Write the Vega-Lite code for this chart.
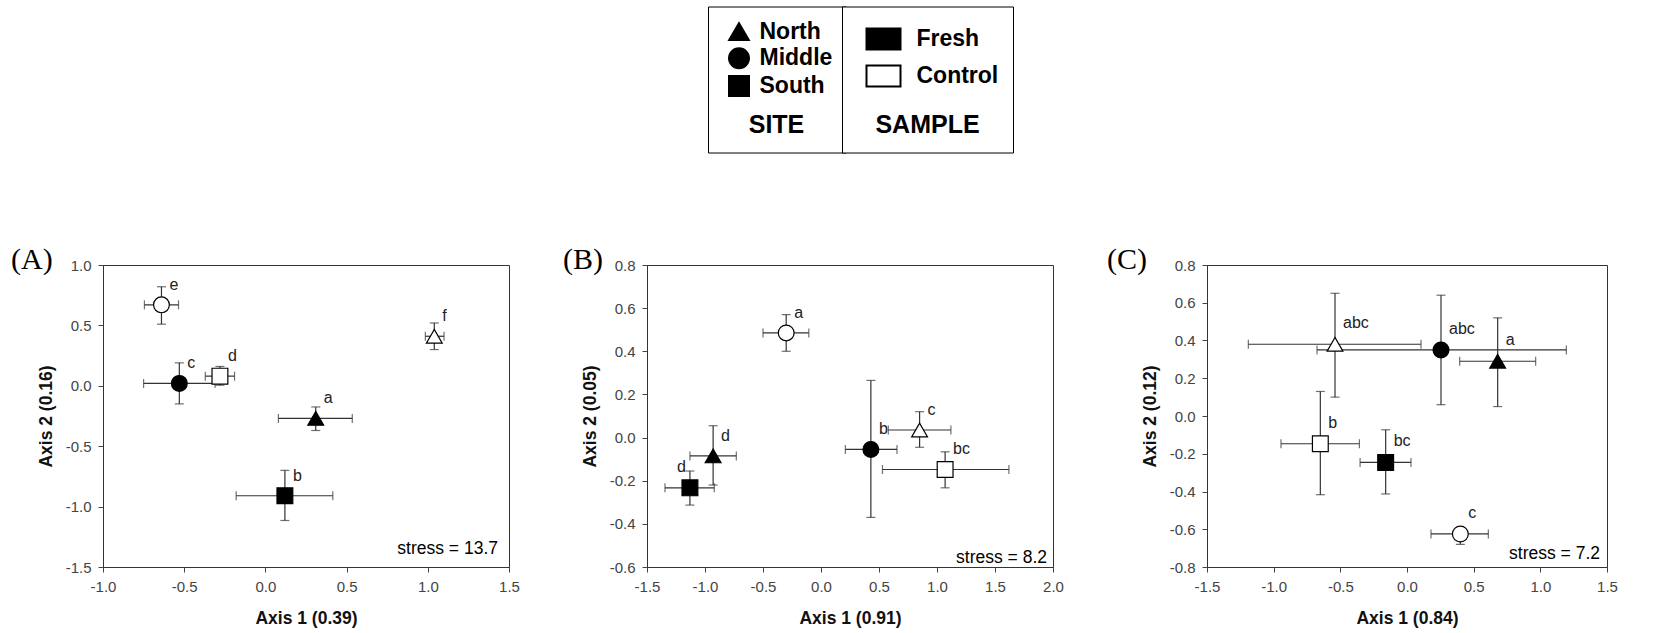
{
  "$schema": "https://vega.github.io/schema/vega-lite/v6.json",
  "padding": {"left": 10, "top": 6, "right": 10, "bottom": 4},
  "background": "white",
  "datasets": {
    "points": [
      {"panel": "A", "site": "North", "sample": "Control", "x": 1.04, "y": 0.41, "x_lo": 0.985, "x_hi": 1.1, "y_lo": 0.3, "y_hi": 0.52, "letter": "f", "side": "r"},
      {"panel": "A", "site": "North", "sample": "Fresh", "x": 0.31, "y": -0.27, "x_lo": 0.08, "x_hi": 0.535, "y_lo": -0.37, "y_hi": -0.175, "letter": "a", "side": "r"},
      {"panel": "A", "site": "Middle", "sample": "Control", "x": -0.64, "y": 0.67, "x_lo": -0.745, "x_hi": -0.535, "y_lo": 0.51, "y_hi": 0.82, "letter": "e", "side": "r"},
      {"panel": "A", "site": "Middle", "sample": "Fresh", "x": -0.53, "y": 0.02, "x_lo": -0.75, "x_hi": -0.31, "y_lo": -0.15, "y_hi": 0.19, "letter": "c", "side": "r"},
      {"panel": "A", "site": "South", "sample": "Control", "x": -0.28, "y": 0.08, "x_lo": -0.37, "x_hi": -0.19, "y_lo": 0.005, "y_hi": 0.16, "letter": "d", "side": "r"},
      {"panel": "A", "site": "South", "sample": "Fresh", "x": 0.12, "y": -0.91, "x_lo": -0.18, "x_hi": 0.415, "y_lo": -1.115, "y_hi": -0.7, "letter": "b", "side": "r"},
      {"panel": "B", "site": "North", "sample": "Control", "x": 0.85, "y": 0.035, "x_lo": 0.58, "x_hi": 1.12, "y_lo": -0.045, "y_hi": 0.12, "letter": "c", "side": "r"},
      {"panel": "B", "site": "North", "sample": "Fresh", "x": -0.93, "y": -0.085, "x_lo": -1.13, "x_hi": -0.73, "y_lo": -0.22, "y_hi": 0.055, "letter": "d", "side": "r"},
      {"panel": "B", "site": "Middle", "sample": "Control", "x": -0.3, "y": 0.485, "x_lo": -0.5, "x_hi": -0.105, "y_lo": 0.4, "y_hi": 0.57, "letter": "a", "side": "r"},
      {"panel": "B", "site": "Middle", "sample": "Fresh", "x": 0.43, "y": -0.055, "x_lo": 0.21, "x_hi": 0.655, "y_lo": -0.37, "y_hi": 0.265, "letter": "b", "side": "r"},
      {"panel": "B", "site": "South", "sample": "Control", "x": 1.07, "y": -0.148, "x_lo": 0.53, "x_hi": 1.62, "y_lo": -0.233, "y_hi": -0.066, "letter": "bc", "side": "r"},
      {"panel": "B", "site": "South", "sample": "Fresh", "x": -1.13, "y": -0.233, "x_lo": -1.345, "x_hi": -0.92, "y_lo": -0.313, "y_hi": -0.155, "letter": "d", "side": "l"},
      {"panel": "C", "site": "North", "sample": "Control", "x": -0.54, "y": 0.38, "x_lo": -1.19, "x_hi": 0.105, "y_lo": 0.1, "y_hi": 0.65, "letter": "abc", "side": "r"},
      {"panel": "C", "site": "North", "sample": "Fresh", "x": 0.68, "y": 0.29, "x_lo": 0.395, "x_hi": 0.965, "y_lo": 0.05, "y_hi": 0.52, "letter": "a", "side": "r"},
      {"panel": "C", "site": "Middle", "sample": "Control", "x": 0.4, "y": -0.625, "x_lo": 0.18, "x_hi": 0.61, "y_lo": -0.68, "y_hi": -0.6, "letter": "c", "side": "r"},
      {"panel": "C", "site": "Middle", "sample": "Fresh", "x": 0.255, "y": 0.35, "x_lo": -0.675, "x_hi": 1.195, "y_lo": 0.06, "y_hi": 0.64, "letter": "abc", "side": "r"},
      {"panel": "C", "site": "South", "sample": "Control", "x": -0.65, "y": -0.147, "x_lo": -0.945, "x_hi": -0.357, "y_lo": -0.417, "y_hi": 0.13, "letter": "b", "side": "r"},
      {"panel": "C", "site": "South", "sample": "Fresh", "x": -0.16, "y": -0.246, "x_lo": -0.352, "x_hi": 0.03, "y_lo": -0.413, "y_hi": -0.073, "letter": "bc", "side": "r"}
    ],
    "stress": [
      {"panel": "A", "label": "stress = 13.7"},
      {"panel": "B", "label": "stress = 8.2"},
      {"panel": "C", "label": "stress = 7.2"}
    ]
  },
  "resolve": {"scale": {"x": "independent", "y": "independent", "shape": "shared", "fill": "shared"}},
  "spacing": 42,
  "hconcat": [
    {
      "width": 406, "height": 302,
      "title": {"text": "(A)", "anchor": "start", "frame": "group", "font": "Liberation Serif", "fontSize": 30, "fontWeight": "normal", "color": "black", "baseline": "alphabetic", "offset": -41, "dx": -92},
      "layer": [
        {"data": {"name": "points"}, "transform": [{"filter": "datum.panel == 'A'"}],
         "mark": {"type": "rule", "color": "#333", "strokeWidth": 1.2},
         "encoding": {
           "x": {"field": "x_lo", "type": "quantitative", "title": "Axis 1 (0.39)", "scale": {"domain": [-1, 1.5], "zero": false, "nice": false}, "axis": {"values": [-1, -0.5, 0, 0.5, 1, 1.5], "format": ".1f", "labelOverlap": false, "labelSeparation": -30, "labelExpr": "replace(datum.label, '\u2212', '-')"}},
           "x2": {"field": "x_hi"},
           "y": {"field": "y", "type": "quantitative", "title": "Axis 2 (0.16)", "scale": {"domain": [-1.5, 1], "zero": false, "nice": false}, "axis": {"values": [-1.5, -1, -0.5, 0, 0.5, 1], "format": ".1f", "labelOverlap": false, "labelSeparation": -30, "labelExpr": "replace(datum.label, '\u2212', '-')"}}
         }},
        {"data": {"name": "points"}, "transform": [{"filter": "datum.panel == 'A'"}],
         "mark": {"type": "rule", "color": "#333", "strokeWidth": 1.2},
         "encoding": {
           "x": {"field": "x", "type": "quantitative", "title": "Axis 1 (0.39)"},
           "y": {"field": "y_lo", "type": "quantitative", "title": "Axis 2 (0.16)"},
           "y2": {"field": "y_hi"}
         }},
        {"data": {"name": "points"}, "transform": [{"filter": "datum.panel == 'A'"}],
         "mark": {"type": "tick", "orient": "vertical", "color": "#333", "size": 9, "thickness": 1.2},
         "encoding": {"x": {"field": "x_lo", "type": "quantitative", "title": "Axis 1 (0.39)"}, "y": {"field": "y", "type": "quantitative", "title": "Axis 2 (0.16)"}}},
        {"data": {"name": "points"}, "transform": [{"filter": "datum.panel == 'A'"}],
         "mark": {"type": "tick", "orient": "vertical", "color": "#333", "size": 9, "thickness": 1.2},
         "encoding": {"x": {"field": "x_hi", "type": "quantitative", "title": "Axis 1 (0.39)"}, "y": {"field": "y", "type": "quantitative", "title": "Axis 2 (0.16)"}}},
        {"data": {"name": "points"}, "transform": [{"filter": "datum.panel == 'A'"}],
         "mark": {"type": "tick", "orient": "horizontal", "color": "#333", "size": 9, "thickness": 1.2},
         "encoding": {"x": {"field": "x", "type": "quantitative", "title": "Axis 1 (0.39)"}, "y": {"field": "y_lo", "type": "quantitative", "title": "Axis 2 (0.16)"}}},
        {"data": {"name": "points"}, "transform": [{"filter": "datum.panel == 'A'"}],
         "mark": {"type": "tick", "orient": "horizontal", "color": "#333", "size": 9, "thickness": 1.2},
         "encoding": {"x": {"field": "x", "type": "quantitative", "title": "Axis 1 (0.39)"}, "y": {"field": "y_hi", "type": "quantitative", "title": "Axis 2 (0.16)"}}},
        {"data": {"name": "points"}, "transform": [{"filter": "datum.panel == 'A'"}],
         "mark": {"type": "point", "filled": true, "size": 250, "stroke": "black", "strokeWidth": 1.2, "opacity": 1},
         "encoding": {
           "x": {"field": "x", "type": "quantitative", "title": "Axis 1 (0.39)"},
           "y": {"field": "y", "type": "quantitative", "title": "Axis 2 (0.16)"},
           "shape": {"field": "site", "type": "nominal", "scale": {"domain": ["North", "Middle", "South"], "range": ["triangle-up", "circle", "square"]},
             "legend": {"title": "SITE", "orient": "none", "legendX": 605, "legendY": -258.5, "direction": "vertical", "titleOrient": "bottom", "titleAnchor": "middle", "titleFont": "Liberation Sans", "titleFontSize": 25, "titleFontWeight": "bold", "titleColor": "black", "titlePadding": 14.2, "labelFont": "Liberation Sans", "labelFontSize": 23, "labelFontWeight": "bold", "labelColor": "black", "labelOffset": 9, "padding": 13.5, "rowPadding": 0.7, "symbolSize": 420, "symbolOffset": 6, "symbolFillColor": "black", "symbolStrokeColor": "black", "strokeColor": "black", "fillColor": "white",
               "encode": {"symbols": {"update": {"fill": {"value": "black"}, "stroke": {"value": "black"}}}, "legend": {"update": {"strokeWidth": {"value": 2.5}}}}}},
           "fill": {"field": "sample", "type": "nominal", "scale": {"domain": ["Fresh", "Control"], "range": ["black", "white"]},
             "legend": {"title": "SAMPLE", "orient": "none", "legendX": 739, "legendY": -258.5, "direction": "vertical", "titleOrient": "bottom", "titleAnchor": "middle", "titleFont": "Liberation Sans", "titleFontSize": 25, "titleFontWeight": "bold", "titleColor": "black", "titlePadding": 22, "labelFont": "Liberation Sans", "labelFontSize": 23, "labelFontWeight": "bold", "labelColor": "black", "labelOffset": 15, "padding": 14.5, "rowPadding": 4, "symbolType": "M-1,-0.62H1V0.62H-1Z", "symbolSize": 1156, "symbolOffset": 9, "symbolStrokeColor": "black", "symbolStrokeWidth": 2, "strokeColor": "black", "fillColor": "white",
               "encode": {"symbols": {"update": {"stroke": {"value": "black"}, "strokeWidth": {"value": 2}, "shape": {"value": "M-1,-0.62H1V0.62H-1Z"}}}, "legend": {"update": {"strokeWidth": {"value": 2.5}}}}}}
         }},
        {"data": {"name": "points"}, "transform": [{"filter": "datum.panel == 'A' && datum.side == 'r'"}],
         "mark": {"type": "text", "align": "left", "baseline": "middle", "dx": 8, "dy": -20, "font": "Liberation Sans", "fontSize": 16, "color": "#222"},
         "encoding": {"x": {"field": "x", "type": "quantitative", "title": "Axis 1 (0.39)"}, "y": {"field": "y", "type": "quantitative", "title": "Axis 2 (0.16)"}, "text": {"field": "letter"}}},
        {"data": {"name": "stress"}, "transform": [{"filter": "datum.panel == 'A'"}],
         "mark": {"type": "text", "align": "right", "baseline": "alphabetic", "dx": -11, "dy": -13, "font": "Liberation Sans", "fontSize": 17.5, "color": "black"},
         "encoding": {"x": {"value": "width"}, "y": {"value": "height"}, "text": {"field": "label"}}}
      ]
    },
    {
      "width": 406, "height": 302,
      "title": {"text": "(B)", "anchor": "start", "frame": "group", "font": "Liberation Serif", "fontSize": 30, "fontWeight": "normal", "color": "black", "baseline": "alphabetic", "offset": -41, "dx": -84},
      "layer": [
        {"data": {"name": "points"}, "transform": [{"filter": "datum.panel == 'B'"}],
         "mark": {"type": "rule", "color": "#333", "strokeWidth": 1.2},
         "encoding": {
           "x": {"field": "x_lo", "type": "quantitative", "title": "Axis 1 (0.91)", "scale": {"domain": [-1.5, 2], "zero": false, "nice": false}, "axis": {"values": [-1.5, -1, -0.5, 0, 0.5, 1, 1.5, 2], "format": ".1f", "labelOverlap": false, "labelSeparation": -30, "labelExpr": "replace(datum.label, '\u2212', '-')"}},
           "x2": {"field": "x_hi"},
           "y": {"field": "y", "type": "quantitative", "title": "Axis 2 (0.05)", "scale": {"domain": [-0.6, 0.8], "zero": false, "nice": false}, "axis": {"values": [-0.6, -0.4, -0.2, 0, 0.2, 0.4, 0.6, 0.8], "format": ".1f", "labelOverlap": false, "labelSeparation": -30, "labelExpr": "replace(datum.label, '\u2212', '-')"}}
         }},
        {"data": {"name": "points"}, "transform": [{"filter": "datum.panel == 'B'"}],
         "mark": {"type": "rule", "color": "#333", "strokeWidth": 1.2},
         "encoding": {
           "x": {"field": "x", "type": "quantitative", "title": "Axis 1 (0.91)"},
           "y": {"field": "y_lo", "type": "quantitative", "title": "Axis 2 (0.05)"},
           "y2": {"field": "y_hi"}
         }},
        {"data": {"name": "points"}, "transform": [{"filter": "datum.panel == 'B'"}],
         "mark": {"type": "tick", "orient": "vertical", "color": "#333", "size": 9, "thickness": 1.2},
         "encoding": {"x": {"field": "x_lo", "type": "quantitative", "title": "Axis 1 (0.91)"}, "y": {"field": "y", "type": "quantitative", "title": "Axis 2 (0.05)"}}},
        {"data": {"name": "points"}, "transform": [{"filter": "datum.panel == 'B'"}],
         "mark": {"type": "tick", "orient": "vertical", "color": "#333", "size": 9, "thickness": 1.2},
         "encoding": {"x": {"field": "x_hi", "type": "quantitative", "title": "Axis 1 (0.91)"}, "y": {"field": "y", "type": "quantitative", "title": "Axis 2 (0.05)"}}},
        {"data": {"name": "points"}, "transform": [{"filter": "datum.panel == 'B'"}],
         "mark": {"type": "tick", "orient": "horizontal", "color": "#333", "size": 9, "thickness": 1.2},
         "encoding": {"x": {"field": "x", "type": "quantitative", "title": "Axis 1 (0.91)"}, "y": {"field": "y_lo", "type": "quantitative", "title": "Axis 2 (0.05)"}}},
        {"data": {"name": "points"}, "transform": [{"filter": "datum.panel == 'B'"}],
         "mark": {"type": "tick", "orient": "horizontal", "color": "#333", "size": 9, "thickness": 1.2},
         "encoding": {"x": {"field": "x", "type": "quantitative", "title": "Axis 1 (0.91)"}, "y": {"field": "y_hi", "type": "quantitative", "title": "Axis 2 (0.05)"}}},
        {"data": {"name": "points"}, "transform": [{"filter": "datum.panel == 'B'"}],
         "mark": {"type": "point", "filled": true, "size": 250, "stroke": "black", "strokeWidth": 1.2, "opacity": 1},
         "encoding": {
           "x": {"field": "x", "type": "quantitative", "title": "Axis 1 (0.91)"},
           "y": {"field": "y", "type": "quantitative", "title": "Axis 2 (0.05)"},
           "shape": {"field": "site", "type": "nominal"},
           "fill": {"field": "sample", "type": "nominal"}
         }},
        {"data": {"name": "points"}, "transform": [{"filter": "datum.panel == 'B' && datum.side == 'r'"}],
         "mark": {"type": "text", "align": "left", "baseline": "middle", "dx": 8, "dy": -20, "font": "Liberation Sans", "fontSize": 16, "color": "#222"},
         "encoding": {"x": {"field": "x", "type": "quantitative", "title": "Axis 1 (0.91)"}, "y": {"field": "y", "type": "quantitative", "title": "Axis 2 (0.05)"}, "text": {"field": "letter"}}},
        {"data": {"name": "points"}, "transform": [{"filter": "datum.panel == 'B' && datum.side == 'l'"}],
         "mark": {"type": "text", "align": "right", "baseline": "middle", "dx": -4, "dy": -21, "font": "Liberation Sans", "fontSize": 16, "color": "#222"},
         "encoding": {"x": {"field": "x", "type": "quantitative", "title": "Axis 1 (0.91)"}, "y": {"field": "y", "type": "quantitative", "title": "Axis 2 (0.05)"}, "text": {"field": "letter"}}},
        {"data": {"name": "stress"}, "transform": [{"filter": "datum.panel == 'B'"}],
         "mark": {"type": "text", "align": "right", "baseline": "alphabetic", "dx": -6, "dy": -4, "font": "Liberation Sans", "fontSize": 17.5, "color": "black"},
         "encoding": {"x": {"value": "width"}, "y": {"value": "height"}, "text": {"field": "label"}}}
      ]
    },
    {
      "width": 400, "height": 302,
      "title": {"text": "(C)", "anchor": "start", "frame": "group", "font": "Liberation Serif", "fontSize": 30, "fontWeight": "normal", "color": "black", "baseline": "alphabetic", "offset": -41, "dx": -100},
      "layer": [
        {"data": {"name": "points"}, "transform": [{"filter": "datum.panel == 'C'"}],
         "mark": {"type": "rule", "color": "#333", "strokeWidth": 1.2},
         "encoding": {
           "x": {"field": "x_lo", "type": "quantitative", "title": "Axis 1 (0.84)", "scale": {"domain": [-1.5, 1.5], "zero": false, "nice": false}, "axis": {"values": [-1.5, -1, -0.5, 0, 0.5, 1, 1.5], "format": ".1f", "labelOverlap": false, "labelSeparation": -30, "labelExpr": "replace(datum.label, '\u2212', '-')"}},
           "x2": {"field": "x_hi"},
           "y": {"field": "y", "type": "quantitative", "title": "Axis 2 (0.12)", "scale": {"domain": [-0.8, 0.8], "zero": false, "nice": false}, "axis": {"values": [-0.8, -0.6, -0.4, -0.2, 0, 0.2, 0.4, 0.6, 0.8], "tickCount": 9, "format": ".1f", "labelOverlap": false, "labelSeparation": -30, "labelExpr": "replace(datum.label, '\u2212', '-')"}}
         }},
        {"data": {"name": "points"}, "transform": [{"filter": "datum.panel == 'C'"}],
         "mark": {"type": "rule", "color": "#333", "strokeWidth": 1.2},
         "encoding": {
           "x": {"field": "x", "type": "quantitative", "title": "Axis 1 (0.84)"},
           "y": {"field": "y_lo", "type": "quantitative", "title": "Axis 2 (0.12)"},
           "y2": {"field": "y_hi"}
         }},
        {"data": {"name": "points"}, "transform": [{"filter": "datum.panel == 'C'"}],
         "mark": {"type": "tick", "orient": "vertical", "color": "#333", "size": 9, "thickness": 1.2},
         "encoding": {"x": {"field": "x_lo", "type": "quantitative", "title": "Axis 1 (0.84)"}, "y": {"field": "y", "type": "quantitative", "title": "Axis 2 (0.12)"}}},
        {"data": {"name": "points"}, "transform": [{"filter": "datum.panel == 'C'"}],
         "mark": {"type": "tick", "orient": "vertical", "color": "#333", "size": 9, "thickness": 1.2},
         "encoding": {"x": {"field": "x_hi", "type": "quantitative", "title": "Axis 1 (0.84)"}, "y": {"field": "y", "type": "quantitative", "title": "Axis 2 (0.12)"}}},
        {"data": {"name": "points"}, "transform": [{"filter": "datum.panel == 'C'"}],
         "mark": {"type": "tick", "orient": "horizontal", "color": "#333", "size": 9, "thickness": 1.2},
         "encoding": {"x": {"field": "x", "type": "quantitative", "title": "Axis 1 (0.84)"}, "y": {"field": "y_lo", "type": "quantitative", "title": "Axis 2 (0.12)"}}},
        {"data": {"name": "points"}, "transform": [{"filter": "datum.panel == 'C'"}],
         "mark": {"type": "tick", "orient": "horizontal", "color": "#333", "size": 9, "thickness": 1.2},
         "encoding": {"x": {"field": "x", "type": "quantitative", "title": "Axis 1 (0.84)"}, "y": {"field": "y_hi", "type": "quantitative", "title": "Axis 2 (0.12)"}}},
        {"data": {"name": "points"}, "transform": [{"filter": "datum.panel == 'C'"}],
         "mark": {"type": "point", "filled": true, "size": 250, "stroke": "black", "strokeWidth": 1.2, "opacity": 1},
         "encoding": {
           "x": {"field": "x", "type": "quantitative", "title": "Axis 1 (0.84)"},
           "y": {"field": "y", "type": "quantitative", "title": "Axis 2 (0.12)"},
           "shape": {"field": "site", "type": "nominal"},
           "fill": {"field": "sample", "type": "nominal"}
         }},
        {"data": {"name": "points"}, "transform": [{"filter": "datum.panel == 'C' && datum.side == 'r'"}],
         "mark": {"type": "text", "align": "left", "baseline": "middle", "dx": 8, "dy": -21, "font": "Liberation Sans", "fontSize": 16, "color": "#222"},
         "encoding": {"x": {"field": "x", "type": "quantitative", "title": "Axis 1 (0.84)"}, "y": {"field": "y", "type": "quantitative", "title": "Axis 2 (0.12)"}, "text": {"field": "letter"}}},
        {"data": {"name": "stress"}, "transform": [{"filter": "datum.panel == 'C'"}],
         "mark": {"type": "text", "align": "right", "baseline": "alphabetic", "dx": -7, "dy": -8, "font": "Liberation Sans", "fontSize": 17.5, "color": "black"},
         "encoding": {"x": {"value": "width"}, "y": {"value": "height"}, "text": {"field": "label"}}}
      ]
    }
  ],
  "config": {
    "font": "Liberation Sans",
    "view": {"stroke": "#333", "strokeWidth": 1},
    "axis": {"labelFont": "Liberation Sans", "labelFontSize": 15, "labelColor": "#444", "titleFont": "Liberation Sans", "titleFontSize": 17.5, "titleFontWeight": "bold", "titleColor": "#111", "tickColor": "#444", "domainColor": "#333", "tickSize": 5, "labelPadding": 7, "grid": false, "labelOverlap": false, "labelFlush": false},
    "axisY": {"titlePadding": 10},
    "axisX": {"titlePadding": 15}
  }
}
